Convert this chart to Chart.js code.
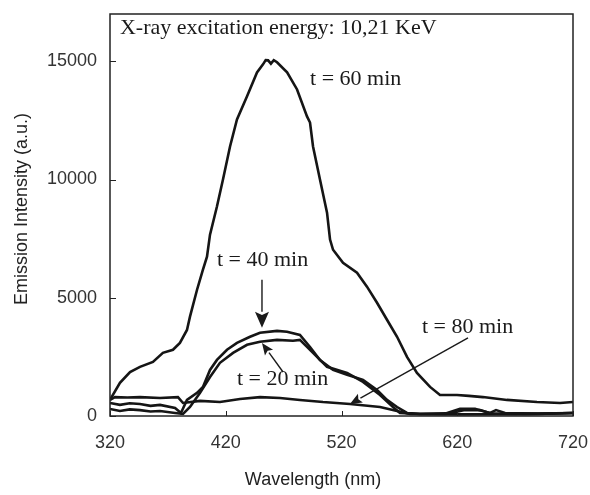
<!DOCTYPE html>
<html>
<head>
<meta charset="utf-8">
<script src="https://cdn.jsdelivr.net/npm/chart.js@4.4.0/dist/chart.umd.min.js"></script>
<style>
  html, body { margin: 0; padding: 0; background: #fff; }
</style>
</head>
<body>
<canvas id="spectra" width="590" height="495"></canvas>
<script>
// wavelength (nm) / intensity (a.u.)
const wl60 = [320, 328.6, 337.3, 345.9, 357.1, 365.7, 374.4, 380.4, 386.5, 389.1, 395.2, 400.3, 403.8, 406.4, 412.4, 417.6, 423.7, 429.7, 438.4, 447, 452.2, 454.5, 456.6, 459, 461.5, 464.3, 473, 481.6, 490.2, 492.8, 495.4, 501.4, 507.5, 510.1, 512.7, 521.3, 533.4, 542, 550.7, 559.3, 568, 576.6, 585.2, 596.5, 605.1, 619.8, 630, 642.2, 662.9, 688.9, 708.8, 720];
const int60 = [680, 1400, 1860, 2080, 2290, 2670, 2800, 3090, 3640, 4200, 5340, 6190, 6740, 7670, 8860, 10000, 11400, 12540, 13520, 14530, 14870, 15050, 15040, 14900, 15050, 14960, 14530, 13810, 12670, 12410, 11400, 10000, 8600, 7460, 7030, 6480, 6060, 5470, 4790, 4070, 3350, 2500, 1820, 1230, 890, 890, 850, 800, 680, 590, 550, 590];

const wl40 = [320, 328.6, 337, 345.9, 355, 363.2, 376.2, 381.3, 386.5, 395.2, 400.3, 406.4, 412.4, 421.1, 429.7, 441, 449.6, 464.3, 472.9, 484.1, 492.8, 501.4, 512.7, 524.8, 538.6, 550.7, 559.3, 568, 576.6, 587.8, 610, 622.4, 635.3, 648.3, 653.5, 661.3, 690, 720];
const int40 = [550, 470, 540, 510, 430, 470, 340, 130, 680, 980, 1230, 1950, 2370, 2800, 3090, 3350, 3520, 3600, 3560, 3430, 2920, 2370, 1950, 1740, 1530, 1100, 680, 380, 130, 90, 110, 300, 300, 130, 250, 130, 100, 130];

const wl20 = [320, 328.6, 337, 345.9, 355, 363.2, 376.2, 383.1, 389.1, 397.8, 406.4, 415, 426.3, 438.4, 449.6, 464.3, 478.1, 484.1, 495.4, 507.5, 524.8, 538.6, 553.3, 564.5, 570.5, 587.8, 610, 626.7, 639.7, 650, 690, 720];
const int20 = [300, 210, 280, 250, 190, 210, 130, 85, 380, 980, 1650, 2250, 2670, 3010, 3140, 3220, 3180, 3220, 2670, 2080, 1820, 1440, 890, 380, 130, 85, 90, 250, 250, 100, 90, 130];

const wl80 = [320, 324.3, 335, 345.9, 363.2, 378.7, 383.1, 397.8, 415, 432.3, 449.6, 466.9, 484.1, 504, 527.3, 553.3, 568, 579.2, 620, 680, 720];
const int80 = [680, 800, 780, 800, 760, 800, 550, 640, 590, 720, 800, 760, 680, 590, 510, 380, 210, 85, 70, 80, 130];

const xTicks = [320, 420, 520, 620, 720];
const yTicks = [0, 5000, 10000, 15000];

const xTitle = 'Wavelength (nm)';
const yTitle = 'Emission Intensity (a.u.)';

// labels and arrows placed in data units [wavelength, intensity]
const notes = [
    { text: 'X-ray excitation energy: 10,21 KeV', at: [328.6, 16150] },
    { text: 't = 60 min', at: [492.8, 13980] },
    { text: 't = 40 min', at: [412.4, 6360] },
    { text: 't = 20 min', at: [429.7, 1310] },
    { text: 't = 80 min', at: [589.5, 3520] }
];
const arrows = [
    { from: [451.3, 5760], to: [451.3, 3730], head: 16, half: 7 },
    { from: [469.5, 1860], to: [451.3, 3090], head: 12, half: 5 },
    { from: [629.3, 3300], to: [527.3, 510], head: 12, half: 5 }
];

function toPoints(xs, ys) {
    return xs.map((x, i) => ({ x: x, y: ys[i] }));
}

function series(label, xs, ys) {
    return {
        label: label,
        data: toPoints(xs, ys),
        borderColor: '#151515',
        borderWidth: 2.6,
        pointRadius: 0,
        tension: 0,
        fill: false
    };
}

const decorPlugin = {
    id: 'decor',
    afterDraw(chart) {
        const ctx = chart.ctx;
        const a = chart.chartArea;
        const xs = chart.scales.x;
        const ys = chart.scales.y;
        ctx.save();

        // frame
        ctx.strokeStyle = '#222';
        ctx.lineWidth = 1.5;
        ctx.strokeRect(a.left, a.top, a.right - a.left, a.bottom - a.top);

        // inward tick marks
        ctx.lineWidth = 1;
        yTicks.forEach(v => {
            const py = Math.round(ys.getPixelForValue(v)) + 0.5;
            ctx.beginPath();
            ctx.moveTo(a.left, py);
            ctx.lineTo(a.left + 6, py);
            ctx.stroke();
        });
        xTicks.forEach(v => {
            const px = Math.round(xs.getPixelForValue(v)) + 0.5;
            ctx.beginPath();
            ctx.moveTo(px, a.bottom);
            ctx.lineTo(px, a.bottom - 5);
            ctx.stroke();
        });

        // axis titles
        ctx.fillStyle = '#222';
        ctx.font = '18px "Liberation Sans", Arial, sans-serif';
        ctx.textAlign = 'center';
        ctx.textBaseline = 'middle';
        ctx.fillText(xTitle, 313, 480);
        ctx.save();
        ctx.translate(22, 209);
        ctx.rotate(-Math.PI / 2);
        ctx.fillText(yTitle, 0, 0);
        ctx.restore();

        // annotations
        ctx.font = '22px "Liberation Serif", "Times New Roman", serif';
        ctx.textAlign = 'left';
        ctx.textBaseline = 'alphabetic';
        ctx.fillStyle = '#1a1a1a';
        notes.forEach(n => {
            ctx.fillText(n.text, xs.getPixelForValue(n.at[0]), ys.getPixelForValue(n.at[1]));
        });

        // arrows
        ctx.strokeStyle = '#1a1a1a';
        ctx.lineWidth = 1.4;
        arrows.forEach(ar => {
            const x0 = xs.getPixelForValue(ar.from[0]);
            const y0 = ys.getPixelForValue(ar.from[1]);
            const x1 = xs.getPixelForValue(ar.to[0]);
            const y1 = ys.getPixelForValue(ar.to[1]);
            const ang = Math.atan2(y1 - y0, x1 - x0);
            const bx = x1 - Math.cos(ang) * ar.head;
            const by = y1 - Math.sin(ang) * ar.head;
            ctx.beginPath();
            ctx.moveTo(x0, y0);
            ctx.lineTo(bx, by);
            ctx.stroke();
            ctx.beginPath();
            ctx.moveTo(x1, y1);
            ctx.lineTo(bx + Math.sin(ang) * ar.half, by - Math.cos(ang) * ar.half);
            ctx.lineTo(x1 - Math.cos(ang) * ar.head * 0.8, y1 - Math.sin(ang) * ar.head * 0.8);
            ctx.lineTo(bx - Math.sin(ang) * ar.half, by + Math.cos(ang) * ar.half);
            ctx.closePath();
            ctx.fill();
        });

        ctx.restore();
    }
};

const tickFont = { family: '"Liberation Sans", Arial, sans-serif', size: 18 };

new Chart(document.getElementById('spectra').getContext('2d'), {
    type: 'line',
    data: {
        datasets: [
            series('t = 60 min', wl60, int60),
            series('t = 40 min', wl40, int40),
            series('t = 20 min', wl20, int20),
            series('t = 80 min', wl80, int80)
        ]
    },
    options: {
        responsive: false,
        animation: false,
        layout: { padding: { left: 0, right: 17, top: 14, bottom: 0 } },
        plugins: {
            legend: { display: false },
            tooltip: { enabled: false }
        },
        scales: {
            x: {
                type: 'linear',
                min: 320,
                max: 720,
                afterBuildTicks: (s) => { s.ticks = xTicks.map(v => ({ value: v })); },
                afterFit: (s) => { s.height = 79; s.paddingLeft = 0; s.paddingRight = 0; },
                grid: { display: false },
                border: { display: false },
                ticks: { font: tickFont, color: '#333', padding: 8, maxRotation: 0, autoSkip: false, callback: (v) => String(v) }
            },
            y: {
                min: 0,
                max: 17000,
                afterBuildTicks: (s) => { s.ticks = yTicks.map(v => ({ value: v })); },
                afterFit: (s) => { s.width = 110; s.paddingTop = 0; s.paddingBottom = 0; },
                grid: { display: false },
                border: { display: false },
                ticks: { font: tickFont, color: '#333', padding: 5, callback: (v) => String(v) }
            }
        }
    },
    plugins: [decorPlugin]
});
</script>
</body>
</html>
